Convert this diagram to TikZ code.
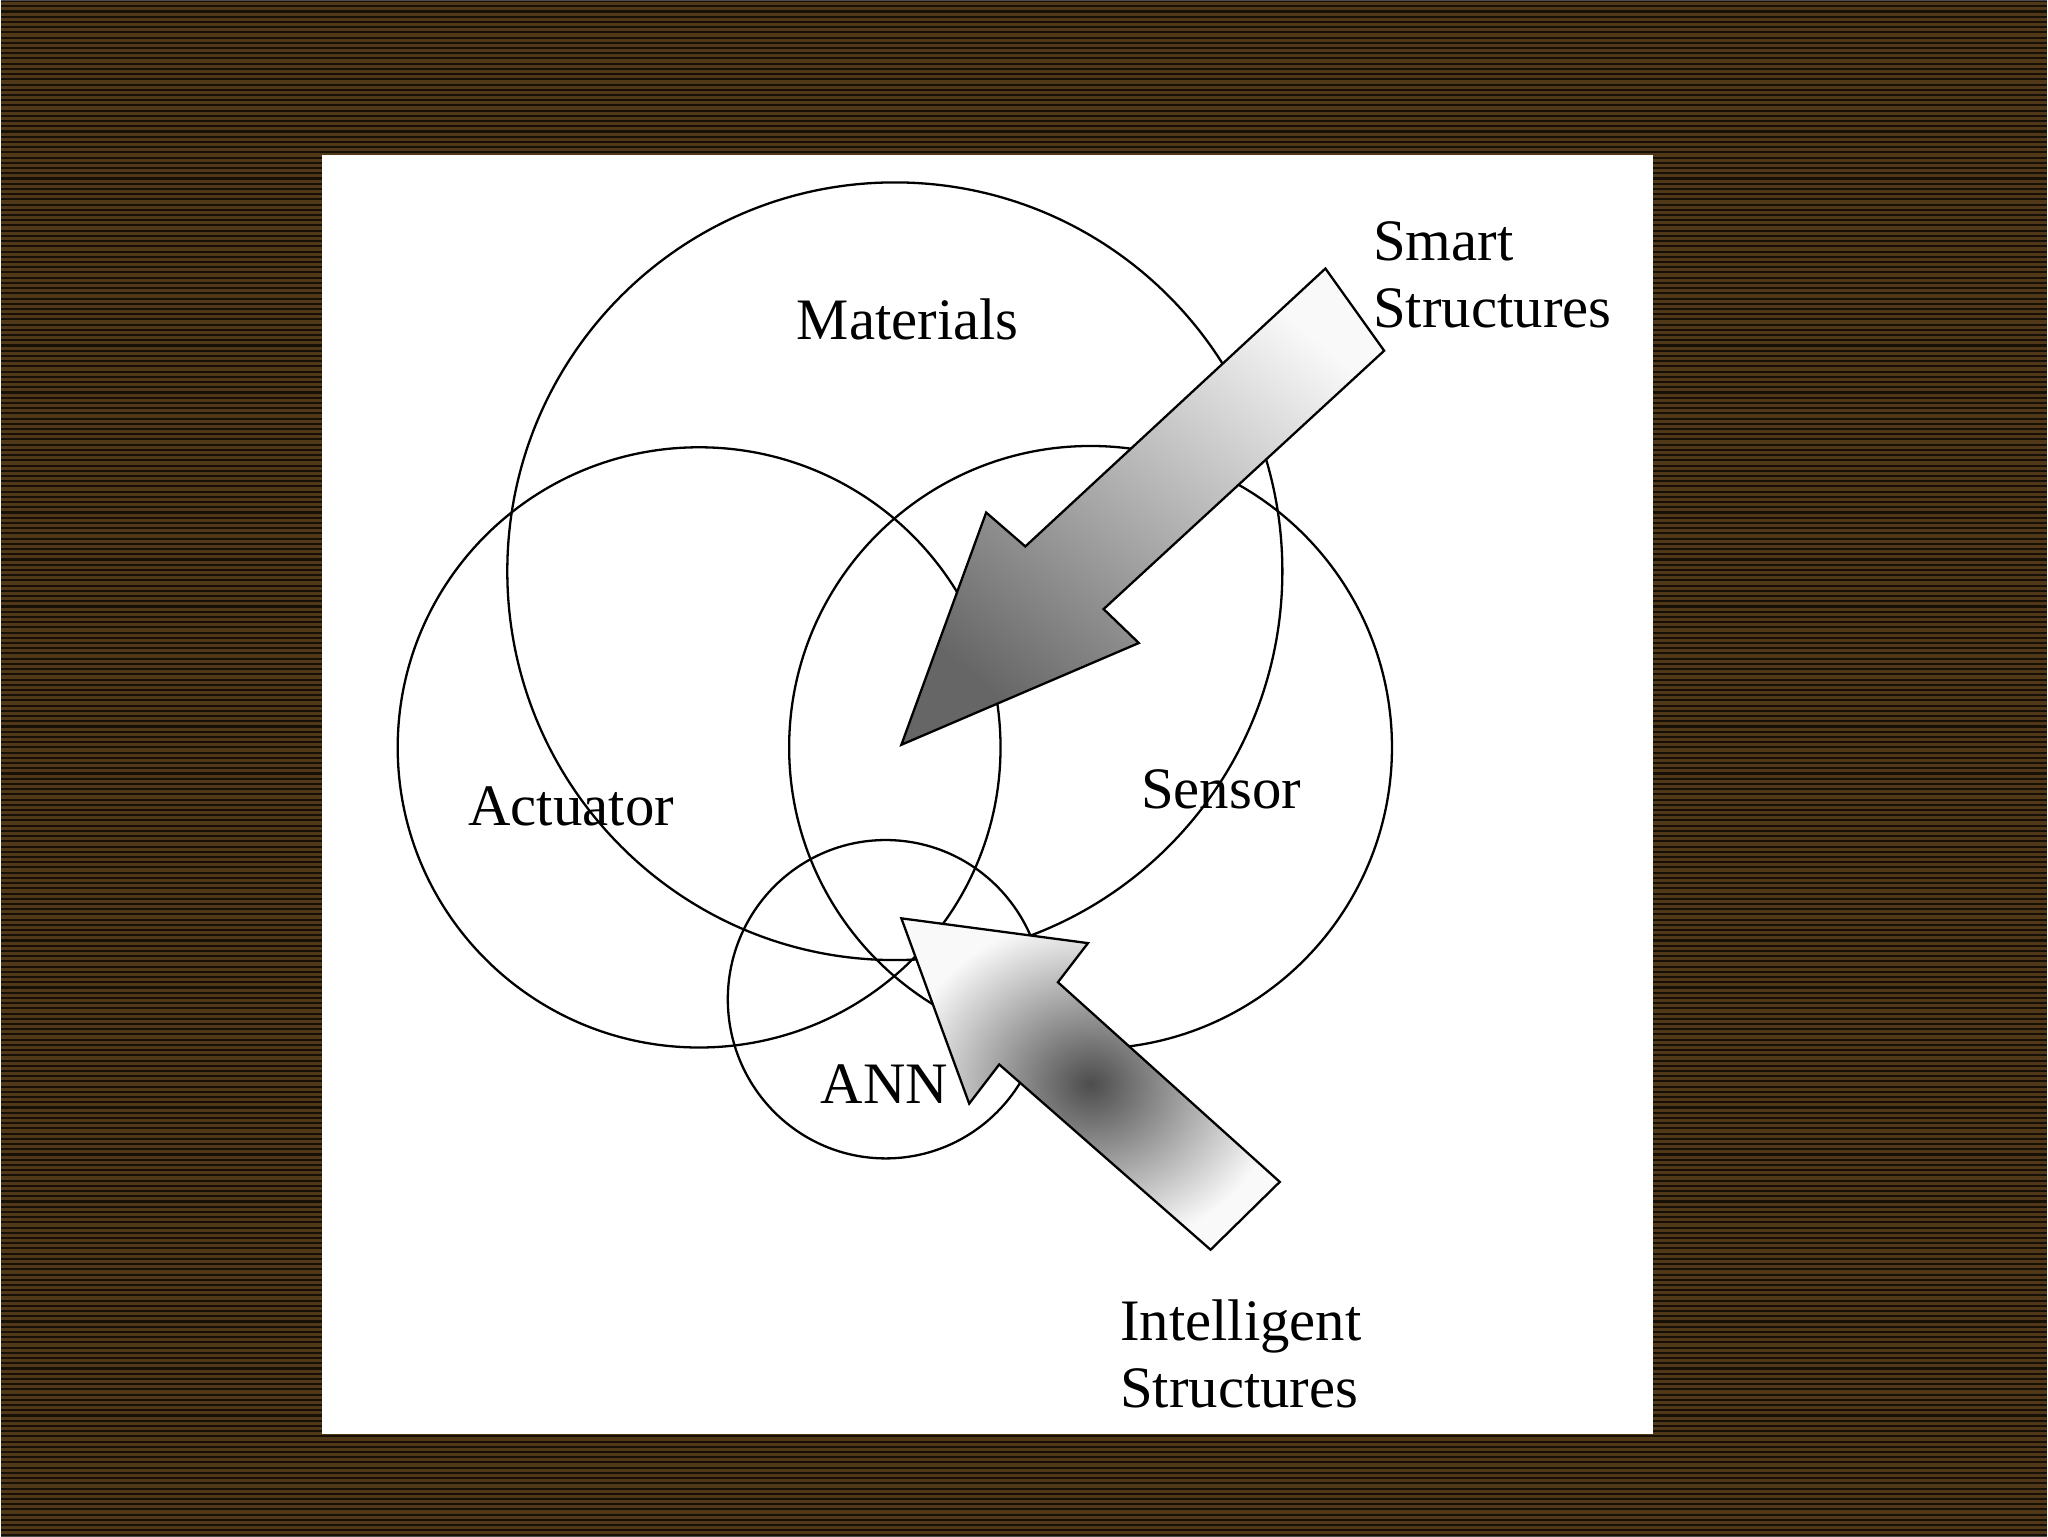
\documentclass[tikz,border=0pt]{standalone}
\usepackage{fontspec}
\setmainfont{Liberation Serif}
\begin{document}
\begin{tikzpicture}[x=0.01cm,y=-0.01cm,
  ring/.style={draw=black,line width=0.5pt},
  lbl/.style={font=\fontsize{12.8}{14.5}\selectfont,align=left,inner sep=0pt}]
\fill[fill={rgb,255:red,80;green,56;blue,24}] (0,0) rectangle (1568,1176);
\foreach \y in {0,4,...,1176}{\draw[black,line width=0.45pt,opacity=0.7] (0,\y) -- (1568,\y);}
\useasboundingbox (0,0) rectangle (1568,1176);
\fill[white] (246,118) rectangle (1266,1098);
\draw[ring] (685,437) ellipse [x radius=297,y radius=298];
\draw[ring] (535,572) ellipse [x radius=231,y radius=230];
\draw[ring] (835,572) ellipse [x radius=231,y radius=231];
\draw[ring] (678,765) ellipse [x radius=121,y radius=122];
% smart arrow
\shade[top color=white!95!gray,bottom color=black!60,shading angle=-40,draw=black,line width=0.5pt]
 (1015,205) -- (1060,268) -- (845,466) -- (872,492) -- (690,570) -- (755,392) -- (785,418) -- cycle;
% intelligent arrow
\shade[inner color=black!70,outer color=white!95!gray,draw=black,line width=0.5pt]
 (980,905) -- (927,957) -- (765,815) -- (742,845) -- (690,703) -- (833,722) -- (810,752) -- cycle;
\node[lbl] (mat) at (695,244) {Materials};
\node[lbl] (act) at (437,617) {Actuator};
\node[lbl] (sen) at (935,604) {Sensor};
\node[lbl] (ann) at (677,830) {ANN};
\node[lbl,anchor=west] (ss) at (1051,210) {Smart\\Structures};
\node[lbl,anchor=west] (is) at (857,1037) {Intelligent\\Structures};
\end{tikzpicture}
\end{document}
